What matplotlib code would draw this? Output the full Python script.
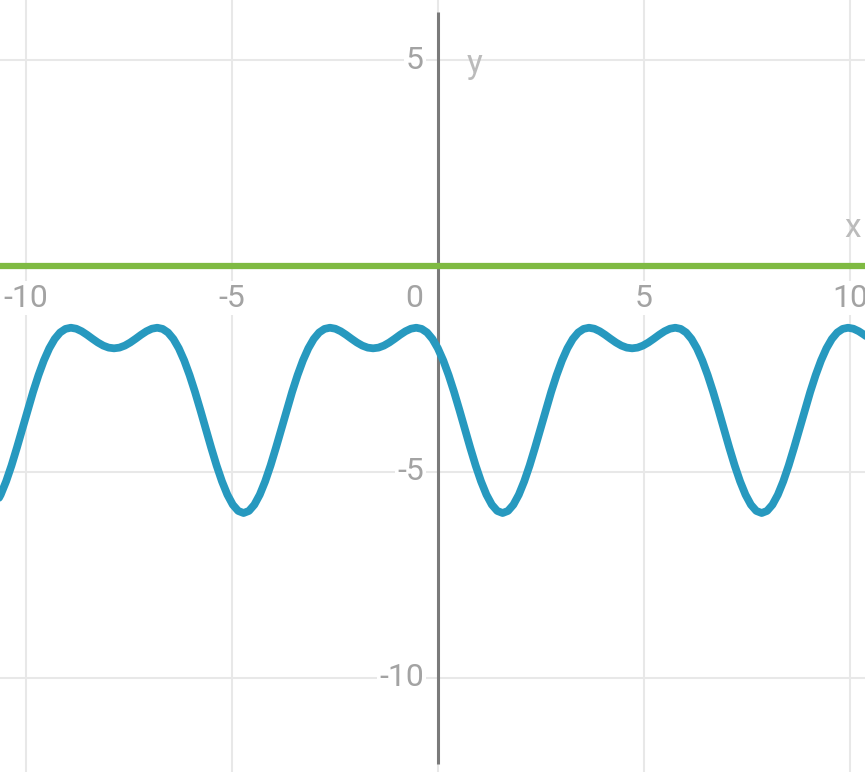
import numpy as np
from matplotlib import pyplot as plt

# 蓝色曲线：每 7.5° 采样一次（x 为角度，单位 °）
x_deg = np.arange(-615, 600.1, 7.5)
y_curve = [
    # -615 .. -367.5
    -5.798, -5.555, -5.232, -4.846, -4.414, -3.959, -3.5, -3.058, -2.652, -2.295,
    -2, -1.773, -1.616, -1.528, -1.5, -1.524, -1.586, -1.672, -1.768, -1.859,
    -1.934, -1.983, -2, -1.983, -1.934, -1.859, -1.768, -1.672, -1.586, -1.524,
    -1.5, -1.528, -1.616, -1.773,
    # -360 .. -7.5
    -2, -2.295, -2.652, -3.058, -3.5, -3.959, -4.414, -4.846, -5.232, -5.555,
    -5.798, -5.949, -6, -5.949, -5.798, -5.555, -5.232, -4.846, -4.414, -3.959,
    -3.5, -3.058, -2.652, -2.295, -2, -1.773, -1.616, -1.528, -1.5, -1.524,
    -1.586, -1.672, -1.768, -1.859, -1.934, -1.983, -2, -1.983, -1.934, -1.859,
    -1.768, -1.672, -1.586, -1.524, -1.5, -1.528, -1.616, -1.773,
    # 0 .. 352.5
    -2, -2.295, -2.652, -3.058, -3.5, -3.959, -4.414, -4.846, -5.232, -5.555,
    -5.798, -5.949, -6, -5.949, -5.798, -5.555, -5.232, -4.846, -4.414, -3.959,
    -3.5, -3.058, -2.652, -2.295, -2, -1.773, -1.616, -1.528, -1.5, -1.524,
    -1.586, -1.672, -1.768, -1.859, -1.934, -1.983, -2, -1.983, -1.934, -1.859,
    -1.768, -1.672, -1.586, -1.524, -1.5, -1.528, -1.616, -1.773,
    # 360 .. 600
    -2, -2.295, -2.652, -3.058, -3.5, -3.959, -4.414, -4.846, -5.232, -5.555,
    -5.798, -5.949, -6, -5.949, -5.798, -5.555, -5.232, -4.846, -4.414, -3.959,
    -3.5, -3.058, -2.652, -2.295, -2, -1.773, -1.616, -1.528, -1.5, -1.524,
    -1.586, -1.672, -1.768,
]
# 绿色水平线 y = 0
y_line = 0

x_ticks = [-10, -5, 0, 5, 10]
y_ticks = [5, -5, -10]
grid_x = [-10, -5, 0, 5, 10]
grid_y = [5, 0, -5, -10]

plt.rcParams['font.family'] = ['Roboto', 'DejaVu Sans']

fig = plt.figure(figsize=(8.65, 7.72), dpi=100)
ax = fig.add_axes([0, 0, 1, 1])
ax.set_xlim(-10.62, 10.36)
ax.set_ylim(-12.29, 6.46)
ax.axis('off')

# 网格
for gx in grid_x:
    ax.axvline(gx, color='#e8e8e8', lw=1.5, zorder=0)
for gy in grid_y:
    ax.axhline(gy, color='#e8e8e8', lw=1.5, zorder=0)

# y 轴
ax.plot([0, 0], [-12.1, 6.17], color='#7a7a7a', lw=2.2, zorder=2, solid_capstyle='butt')

# 刻度标签
label_kw = dict(fontsize=23, color='#a3a3a3', zorder=3,
                bbox=dict(facecolor='white', edgecolor='none', pad=1.5))
for t in x_ticks:
    if t == 0:
        ax.text(-0.58, -0.78, '0', ha='center', va='center', **label_kw)
    else:
        ax.text(t, -0.78, str(t), ha='center', va='center', **label_kw)
for t in y_ticks:
    ax.text(-0.34, t, str(t), ha='right', va='center', **label_kw)

ax.text(0.9, 4.9, 'y', fontsize=24, color='#bbbbbb',
        ha='center', va='center', zorder=3)
ax.text(10.07, 0.92, 'x', fontsize=24, color='#bbbbbb',
        ha='center', va='center', zorder=3)

ax.axhline(y_line, color='#7fba42', lw=4.5, zorder=4)
ax.plot(np.deg2rad(x_deg), y_curve, color='#2799bf', lw=5.6, zorder=5,
        solid_joinstyle='round', solid_capstyle='round')

fig.savefig('out.png', dpi=100)
